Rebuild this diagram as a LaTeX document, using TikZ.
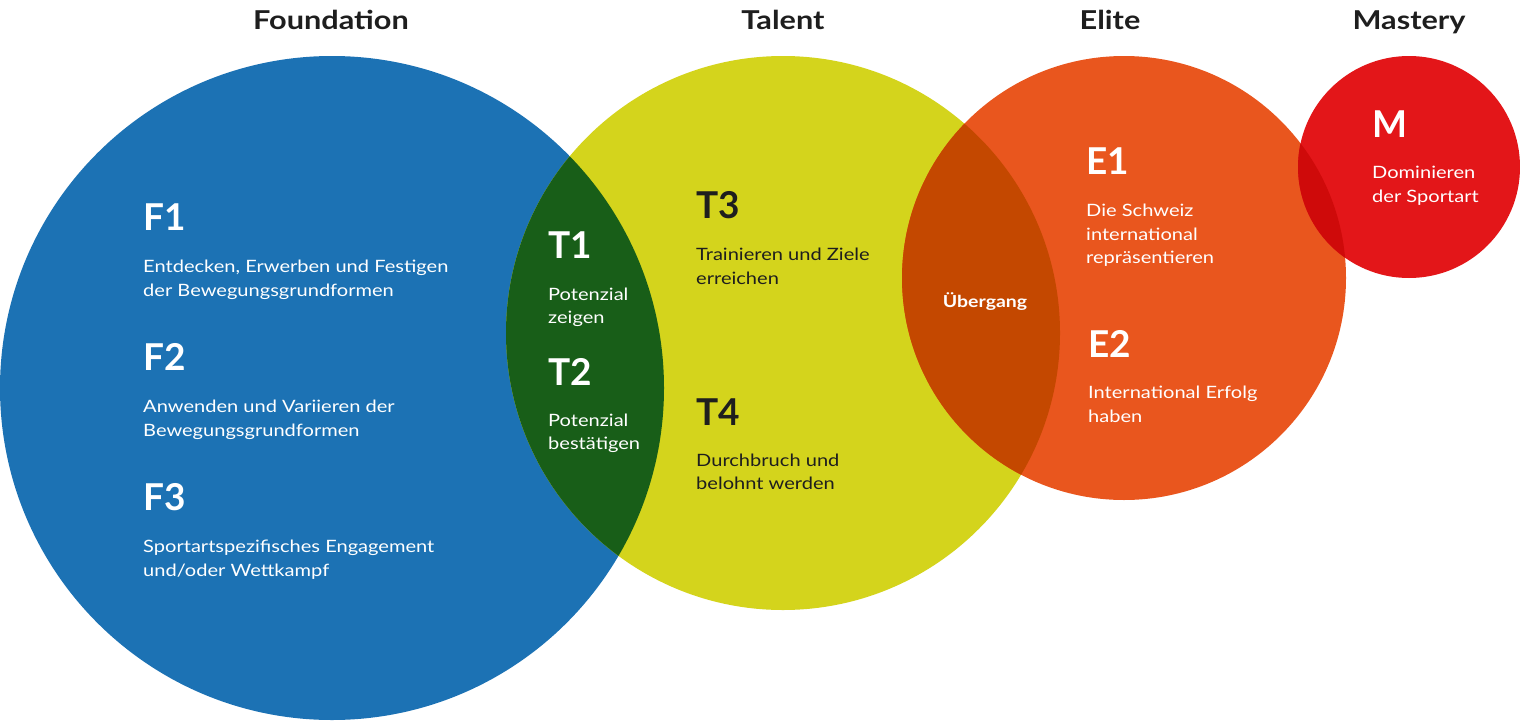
\documentclass[tikz,border=0pt]{standalone}
\usepackage{fontspec}
\setmainfont{Lato}[FakeStretch=1.18]
\newfontfamily\hdfont{Lato}
\definecolor{fblue}{HTML}{1C72B4}
\definecolor{tyellow}{HTML}{D4D41C}
\definecolor{eorange}{HTML}{E9561E}
\definecolor{mred}{HTML}{E31619}
\definecolor{ovgreen}{HTML}{185E18}
\definecolor{ovorange}{HTML}{C44800}
\definecolor{ovred}{HTML}{CF0A0A}
\definecolor{ink}{HTML}{1E1E1E}
\begin{document}
\begin{tikzpicture}[x=1pt,y=-1pt,
  title/.style={font=\fontsize{26}{30}\selectfont\bfseries, text=ink, inner sep=0pt, anchor=base},
  hd/.style={font=\hdfont\fontsize{37}{40}\selectfont\bfseries, inner sep=0pt, anchor=base west},
  bd/.style={font=\fontsize{17}{24}\selectfont, inner sep=0pt, anchor=base west},
  wt/.style={text=white},
  dk/.style={text=ink}]
\useasboundingbox (0,0) rectangle (1520,720);
% circles
\coordinate (cf) at (332,388);
\coordinate (ct) at (783,333);
\coordinate (ce) at (1124,278);
\coordinate (cm) at (1409,167);
\fill[fblue] (cf) circle (332pt);
\fill[tyellow] (ct) circle (277pt);
\fill[eorange] (ce) circle (222pt);
\fill[mred] (cm) circle (111pt);
\begin{scope}
  \clip (ct) circle (277pt);
  \fill[ovgreen] (cf) circle (332pt);
\end{scope}
\begin{scope}
  \clip (ce) circle (222pt);
  \fill[ovorange] (ct) circle (277pt);
\end{scope}
\begin{scope}
  \clip (cm) circle (111pt);
  \fill[ovred] (ce) circle (222pt);
\end{scope}
% titles
\node[title] (tf) at (331,29) {Foundation};
\node[title] (tt) at (783,29) {Talent};
\node[title] (te) at (1110,29) {Elite};
\node[title] (tm) at (1409,29) {Mastery};
% Foundation
\node[hd,wt] (f1) at (143,230) {F1};
\node[bd,wt] (f1a) at (143,272) {Entdecken, Erwerben und Festigen};
\node[bd,wt] (f1b) at (143,296) {der Bewegungsgrundformen};
\node[hd,wt] (f2) at (143,370) {F2};
\node[bd,wt] (f2a) at (143,412) {Anwenden und Variieren der};
\node[bd,wt] (f2b) at (143,436) {Bewegungsgrundformen};
\node[hd,wt] (f3) at (143,510) {F3};
\node[bd,wt] (f3a) at (143,552) {Sportartspezifisches Engagement};
\node[bd,wt] (f3b) at (143,576) {und/oder Wettkampf};
% T1 T2
\node[hd,wt] (t1) at (548,258) {T1};
\node[bd,wt] (t1a) at (548,300) {Potenzial};
\node[bd,wt] (t1b) at (548,323) {zeigen};
\node[hd,wt] (t2) at (548,385) {T2};
\node[bd,wt] (t2a) at (548,426) {Potenzial};
\node[bd,wt] (t2b) at (548,449) {bestätigen};
% T3 T4
\node[hd,dk] (t3) at (696,218) {T3};
\node[bd,dk] (t3a) at (696,260) {Trainieren und Ziele};
\node[bd,dk] (t3b) at (696,284) {erreichen};
\node[hd,dk] (t4) at (696,425) {T4};
\node[bd,dk] (t4a) at (696,466) {Durchbruch und};
\node[bd,dk] (t4b) at (696,489) {belohnt werden};
% Uebergang
\node[font=\fontsize{16.5}{20}\selectfont\bfseries, text=white, inner sep=0pt, anchor=base] (ub) at (985,307) {Übergang};
% Elite
\node[hd,wt] (e1) at (1086,174) {E1};
\node[bd,wt] (e1a) at (1086,216) {Die Schweiz};
\node[bd,wt] (e1b) at (1086,240) {international};
\node[bd,wt] (e1c) at (1086,263) {repräsentieren};
\node[hd,wt] (e2) at (1088,357) {E2};
\node[bd,wt] (e2a) at (1088,398) {International Erfolg};
\node[bd,wt] (e2b) at (1088,422) {haben};
% Mastery
\node[hd,wt] (m) at (1372,137) {M};
\node[bd,wt] (ma) at (1372,178) {Dominieren};
\node[bd,wt] (mb) at (1372,202) {der Sportart};
\end{tikzpicture}
\end{document}
